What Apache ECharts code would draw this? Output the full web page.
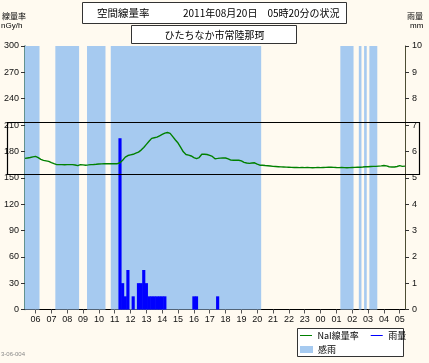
<!DOCTYPE html>
<html><head><meta charset="utf-8">
<script src="https://cdn.jsdelivr.net/npm/echarts@6/dist/echarts.min.js"></script>
<style>html,body{margin:0;padding:0;background:#FFFAF0;}#c{width:429px;height:363px;}</style>
</head><body><div id="c"></div>
<script>
// ---- data ----
// NaI dose rate (nGy/h), every 10 min from 08-19 05:20 to 08-20 05:20
const doseRate = [
172,172.5,173,173.8,174.3,173,171,169.8,169.2,168.6,
167.2,166,165,164.9,165,164.8,165,164.9,165,164.5,
163.8,164.9,164.6,164.3,164.6,165,165.1,165.3,165.6,165.8,
166,166,166,166,166,166,167.1,170,173.5,175.3,
176,176.7,178,179.2,181.5,184.5,188,191.5,194.8,195.5,
196.2,197.8,199.3,200.8,201.5,200.5,196.8,193,189.5,184.5,
179.5,176.5,175.8,174.8,173,171.8,173,176.7,176.7,176.5,
175.5,174.3,171.7,172,172.4,172.5,172.5,171.5,170.1,170,
170,169.9,169.2,167.5,166.8,166.4,166.8,167,165.5,164.3,
164.2,163.9,163.7,163.4,163,162.8,162.6,162.4,162.3,162.1,
162,161.8,161.7,161.6,161.5,161.6,161.5,161.7,161.5,161.4,
161.5,161.6,161.5,161.7,161.8,162,162,161.8,161.6,161.5,
161.6,161.5,161.4,161.5,161.7,161.8,162,162,162.2,162.5,
162.6,162.8,163,162.9,163.2,163.5,164,163.5,162.5,162.3,
162.3,162.8,163.8,163,163.2
];
// rainfall (mm per 10 min)
const rainTimes = ["08-19 11:20","08-19 11:30","08-19 11:40","08-19 11:50","08-19 12:10",
  "08-19 12:30","08-19 12:40","08-19 12:50","08-19 13:00","08-19 13:10","08-19 13:20",
  "08-19 13:30","08-19 13:40","08-19 13:50","08-19 14:00","08-19 14:10",
  "08-19 16:00","08-19 16:10","08-19 17:30"];
const rainValues = [6.5,1.0,0.5,1.5,0.5, 1.0,1.0,1.5,1.0,0.5,0.5, 0.5,0.5,0.5,0.5,0.5, 0.5,0.5,0.5];
// rain sensed periods (感雨)
const senseStart = ["08-19 05:20","08-19 07:20","08-19 09:20","08-19 10:50","08-20 01:20","08-20 02:30","08-20 02:50","08-20 03:10"];
const senseEnd   = ["08-19 06:10","08-19 08:40","08-19 10:20","08-19 20:10","08-20 02:00","08-20 02:30","08-20 02:50","08-20 03:30"];
const doseAxis = {min:0, max:300, step:30};
const rainAxis = {min:0, max:10, step:1};

// ---- categories ----
const categories = [];
for (let i = 0; i <= 144; i++) {
  const m = 320 + i * 10;
  const day = m >= 1440 ? '08-20' : '08-19';
  const mm = m % 1440;
  const hh = String(Math.floor(mm / 60)).padStart(2, '0');
  const mi = String(mm % 60).padStart(2, '0');
  categories.push(day + ' ' + hh + ':' + mi);
}
const rainData = rainTimes.map((t, k) => [categories.indexOf(t), rainValues[k]]);
const senseData = senseStart.map((s, k) => [categories.indexOf(s), categories.indexOf(senseEnd[k]), rainAxis.max]);

const FONT = '"Noto Sans CJK JP", sans-serif';
const NUMF = '"Liberation Sans", Arial, sans-serif';
const hourTick = (idx, val) => val.endsWith(':00');
const chart = echarts.init(document.getElementById('c'), null, {renderer: 'canvas'});
const lineIcon = 'path://M0,0L0.01,0L0,0.01ZM0,3.4L12,3.4L12,4.6L0,4.6ZM0,8L0.01,8L0,7.99Z';

function clipToGrid(r, cs) {
  return echarts.graphic.clipRectByRect(r, {x: cs.x, y: cs.y, width: cs.width, height: cs.height});
}
function renderBand(params, api) {
  const a = api.value(0), b = api.value(1), v = api.value(2);
  const bw = api.size([1, 0])[0];
  const p0 = api.coord([a, v]), p1 = api.coord([b, 0]);
  const r = clipToGrid({x: p0[0] - bw / 2, y: p0[1], width: p1[0] - p0[0] + bw, height: p1[1] - p0[1]}, params.coordSys);
  return r && {type: 'rect', shape: r, style: {fill: '#A6CAF0'}};
}
function renderRain(params, api) {
  const i = api.value(0), v = api.value(1);
  const bw = api.size([1, 0])[0];
  const p0 = api.coord([i, v]), p1 = api.coord([i, 0]);
  const r = clipToGrid({x: p0[0] - bw / 2 - 0.25, y: p0[1], width: bw + 0.5, height: p1[1] - p0[1]}, params.coordSys);
  return r && {type: 'rect', shape: r, style: {fill: '#0000FF'}};
}

chart.setOption({
  animation: false,
  backgroundColor: '#FFFAF0',
  grid: {left: 25, right: 24, top: 46, bottom: 53.5, show: false},
  xAxis: {
    type: 'category', data: categories, boundaryGap: false,
    axisLine: {lineStyle: {color: '#000', width: 1}},
    axisTick: {interval: hourTick, length: 4, lineStyle: {color: '#555'}},
    axisLabel: {interval: hourTick, formatter: v => v.slice(6, 8), fontSize: 9, fontFamily: NUMF, color: '#111', margin: 6},
    splitLine: {show: false}
  },
  yAxis: [
    {type: 'value', min: doseAxis.min, max: doseAxis.max, interval: doseAxis.step, position: 'left',
     axisLine: {show: true, lineStyle: {color: '#2F6F6F', width: 1.5}},
     axisTick: {show: true, length: 4, lineStyle: {color: '#333'}},
     axisLabel: {fontSize: 9, fontFamily: NUMF, color: '#111', margin: 6},
     splitLine: {show: false}},
    {type: 'value', min: rainAxis.min, max: rainAxis.max, interval: rainAxis.step, position: 'right',
     axisLine: {show: true, lineStyle: {color: '#4D4D33', width: 1}},
     axisTick: {show: true, length: 4, lineStyle: {color: '#333'}},
     axisLabel: {fontSize: 9, fontFamily: NUMF, color: '#111', margin: 7},
     splitLine: {show: false}}
  ],
  legend: [
    {left: 300, top: 331, padding: 0, itemWidth: 13, itemHeight: 8, itemGap: 12, selectedMode: false,
     textStyle: {fontSize: 9, fontFamily: FONT, color: '#000'},
     data: [{name: 'NaI線量率', icon: lineIcon, itemStyle: {color: '#008000', borderWidth: 0}},
            {name: '雨量', icon: lineIcon, itemStyle: {color: '#0000FF', borderWidth: 0}}]},
    {left: 300, top: 345, padding: 0, itemWidth: 13, itemHeight: 7, selectedMode: false,
     textStyle: {fontSize: 9, fontFamily: FONT, color: '#000'},
     data: [{name: '感雨', icon: 'rect', itemStyle: {color: '#A6CAF0', borderWidth: 0}}]}
  ],
  series: [
    {name: '感雨', type: 'custom', yAxisIndex: 1, data: senseData, renderItem: renderBand,
     encode: {x: [0, 1], y: 2}, itemStyle: {color: '#A6CAF0'}, z: 1},
    {name: '雨量', type: 'custom', yAxisIndex: 1, data: rainData, renderItem: renderRain,
     encode: {x: 0, y: 1}, itemStyle: {color: '#0000FF'}, z: 2},
    {name: 'NaI線量率', type: 'line', yAxisIndex: 0, data: doseRate, symbol: 'none', showSymbol: false,
     lineStyle: {color: '#008000', width: 1.4}, itemStyle: {color: '#008000'}, z: 3}
  ]
});

const yTop = chart.convertToPixel({yAxisIndex: 0}, 213);
const yBot = chart.convertToPixel({yAxisIndex: 0}, 154);
chart.setOption({
  graphic: [
    {type: 'rect', shape: {x: 82.5, y: 2.5, width: 264, height: 21}, style: {fill: '#fff', stroke: '#333', lineWidth: 1}, z: 5},
    {type: 'text', x: 97, y: 13, style: {text: '空間線量率', font: '10.5px ' + FONT, fill: '#000', textVerticalAlign: 'middle'}, z: 6},
    {type: 'text', x: 183, y: 13, style: {text: '2011年08月20日　05時20分の状況', font: '10px ' + FONT, fill: '#000', textVerticalAlign: 'middle'}, z: 6},
    {type: 'rect', shape: {x: 131.5, y: 25.5, width: 165, height: 18}, style: {fill: '#fff', stroke: '#333', lineWidth: 1}, z: 5},
    {type: 'text', x: 214.5, y: 35, style: {text: 'ひたちなか市常陸那珂', font: '10px ' + FONT, fill: '#000', textAlign: 'center', textVerticalAlign: 'middle'}, z: 6},
    {type: 'text', x: 2, y: 16, style: {text: '線量率', font: '8px ' + FONT, fill: '#000', textVerticalAlign: 'middle'}},
    {type: 'text', x: 1, y: 26, style: {text: 'nGy/h', font: '8px ' + NUMF, fill: '#000', textVerticalAlign: 'middle'}},
    {type: 'text', x: 407, y: 16, style: {text: '雨量', font: '8px ' + FONT, fill: '#000', textVerticalAlign: 'middle'}},
    {type: 'text', x: 410, y: 26, style: {text: 'mm', font: '8px ' + NUMF, fill: '#000', textVerticalAlign: 'middle'}},
    {type: 'text', x: 1, y: 354, style: {text: '3-06-004', font: '6px ' + NUMF, fill: '#888', textVerticalAlign: 'middle'}},
    {type: 'rect', shape: {x: 297.5, y: 328.5, width: 106, height: 28}, style: {fill: '#fff', stroke: '#333', lineWidth: 1}, z: 0},
    {type: 'rect', shape: {x: 7.5, y: Math.round(yTop) + 0.5, width: 412, height: Math.round(yBot) - Math.round(yTop)},
     style: {fill: 'none', stroke: '#000', lineWidth: 1.2}, z: 50}
  ]
});
</script></body></html>
